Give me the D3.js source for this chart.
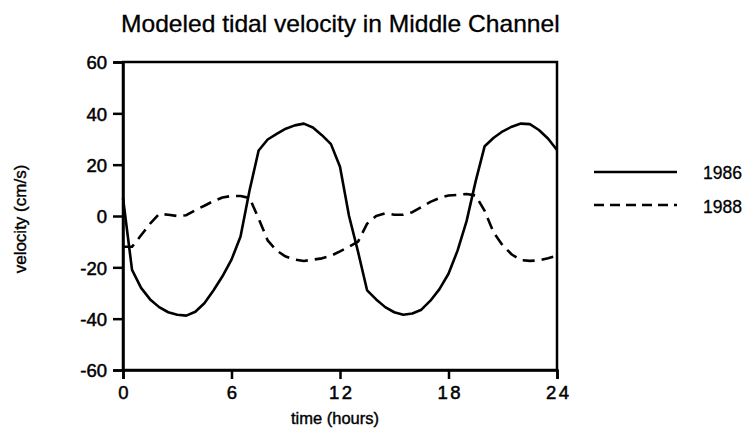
<!DOCTYPE html>
<html>
<head>
<meta charset="utf-8">
<script src="https://cdn.jsdelivr.net/npm/d3@7"></script>
<style>
  body { margin: 0; background: #fff; }
  svg { display: block; }
  text { font-family: "Liberation Sans", Arial, Helvetica, sans-serif; fill: #000; }
</style>
</head>
<body>
<svg id="chart" width="744" height="433"></svg>
<script>
const title = "Modeled tidal velocity in Middle Channel";
const xLabel = "time (hours)";
const yLabel = "velocity (cm/s)";
const seriesNames = ["1986", "1988"];
const hours = [0,0.5,1,1.5,2,2.5,3,3.5,4,4.5,5,5.5,6,6.5,7,7.5,8,8.5,9,9.5,10,10.5,11,11.5,12,12.5,13,13.5,14,14.5,15,15.5,16,16.5,17,17.5,18,18.5,19,19.5,20,20.5,21,21.5,22,22.5,23,23.5,24];
const v1986 = [7,-21,-28,-32.5,-35.5,-37.5,-38.5,-38.8,-37.3,-34,-29,-23.5,-17,-8,10,25.5,29.8,32,34,35.3,36,34.5,31.5,28,19.2,0,-14,-29,-32.5,-35.5,-37.5,-38.5,-38,-36.5,-33,-28.5,-22.5,-13.5,-2,13.5,27.2,30.5,33,34.8,36,35.8,33.5,30.2,25.7];
const v1988 = [-12,-12,-7.5,-3,0.8,0.5,0,0.3,2.3,4,5.8,7.2,7.8,7.8,7,-1,-9.5,-13.5,-15.8,-17,-17.5,-17,-16.5,-15.5,-13.8,-12,-10,-3,0,1,0.5,0.5,1.5,3.5,5.5,7,8,8.2,8.6,8,2,-6.5,-11.5,-15,-17.2,-17.5,-17.3,-16.5,-15.5];
const xTicks = [0,6,12,18,24];
const yTicks = [-60,-40,-20,0,20,40,60];

const svg = d3.select("#chart");
const L = 123, R = 557, T = 62, B = 370;
const x = d3.scaleLinear().domain([0,24]).range([L,R]);
const y = d3.scaleLinear().domain([-60,60]).range([B,T]);
const fmt = d => String(d);

// title (fitted to the original's width)
const tt = svg.append("text").attr("font-size", 23)
  .attr("stroke", "#000").attr("stroke-width", 0.3).text(title);
const natural = tt.node().getComputedTextLength();
tt.attr("transform", `translate(121,31.5) scale(${439 / natural},1)`);

// frame
svg.append("rect").attr("x", L).attr("y", T).attr("width", R-L).attr("height", B-T)
  .attr("fill", "none").attr("stroke", "#000").attr("stroke-width", 2.5);

// y axis
const yAxis = svg.append("g").attr("transform", `translate(${L},0)`)
  .call(d3.axisLeft(y).tickValues(yTicks).tickSize(10).tickPadding(6).tickFormat(fmt));
yAxis.select(".domain").attr("stroke-width", 2.5);
yAxis.selectAll(".tick line").attr("stroke-width", 2.5);
yAxis.selectAll(".tick text").attr("font-size", 18.5).attr("font-family", "Liberation Sans, Arial, sans-serif")
  .attr("stroke", "#000").attr("stroke-width", 0.5).attr("dy", "0.36em");

// x axis
const ls = 2.5;
const xAxis = svg.append("g").attr("transform", `translate(0,${B})`)
  .call(d3.axisBottom(x).tickValues(xTicks).tickSize(9).tickPadding(7).tickFormat(fmt));
xAxis.select(".domain").attr("stroke-width", 2.5);
xAxis.selectAll(".tick line").attr("stroke-width", 2.5);
xAxis.selectAll(".tick text").attr("font-size", 18.5).attr("font-family", "Liberation Sans, Arial, sans-serif")
  .attr("letter-spacing", ls).attr("dx", ls / 2).attr("stroke", "#000").attr("stroke-width", 0.5);

// axis labels
svg.append("text").attr("x", 335).attr("y", 424).attr("text-anchor", "middle")
  .attr("font-size", 16.5).attr("stroke", "#000").attr("stroke-width", 0.4).text(xLabel);
svg.append("text").attr("transform", "translate(25.5,219) rotate(-90)").attr("text-anchor", "middle")
  .attr("font-size", 17).attr("stroke", "#000").attr("stroke-width", 0.4).text(yLabel);

// lines
const line = d3.line().x((d,i) => x(hours[i])).y(d => y(d));
const dashes = ["none", "12,7"];
[v1986, v1988].forEach((vals, k) => {
  svg.append("path").datum(vals).attr("d", line)
    .attr("fill", "none").attr("stroke", "#000").attr("stroke-width", 2.6)
    .attr("stroke-linejoin", "round")
    .attr("stroke-dasharray", dashes[k]);
});

// legend
const legY = [172, 205];
const legText = [179, 213];
seriesNames.forEach((name, k) => {
  svg.append("line").attr("x1", 594).attr("x2", 677).attr("y1", legY[k]).attr("y2", legY[k])
    .attr("stroke", "#000").attr("stroke-width", 2.4).attr("stroke-dasharray", k ? "10,6" : "none");
  svg.append("text").attr("x", 703).attr("y", legText[k]).attr("font-size", 17.5)
    .attr("stroke", "#000").attr("stroke-width", 0.3).text(name);
});
</script>
</body>
</html>
